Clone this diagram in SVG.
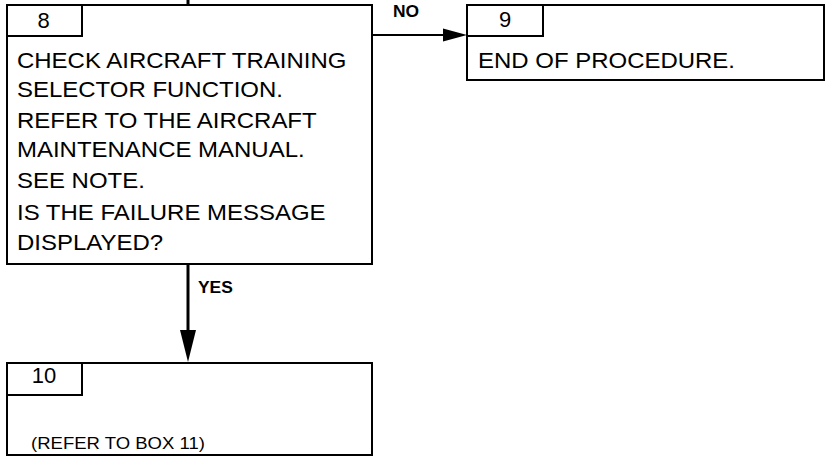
<svg xmlns="http://www.w3.org/2000/svg" width="825" height="459" viewBox="0 0 825 459">
<style>
.box{fill:#fff;stroke:#000;stroke-width:2}
.t{font-family:"Liberation Sans",Arial,sans-serif;font-size:22px;fill:#000}
.n{font-family:"Liberation Sans",Arial,sans-serif;font-size:22px;fill:#000;text-anchor:middle}
.s{font-family:"Liberation Sans",Arial,sans-serif;font-size:17px;fill:#000}
.lbl{font-family:"Liberation Sans",Arial,sans-serif;font-size:16px;font-weight:bold;fill:#000}
.c{stroke:#000;stroke-width:3;fill:none}
.head{fill:#000}
</style>
<g id="connectors">
<line class="c" x1="188" y1="0" x2="188" y2="5"/>
<line class="c" x1="188" y1="264" x2="188" y2="335"/>
<path class="head" d="M180,330 L196,330 L188,362 Z"/>
<line x1="372" y1="35" x2="448" y2="35" stroke="#000" stroke-width="2"/>
<path class="head" d="M443,28.5 L467,35 L443,41.5 Z"/>
<text class="lbl" transform="matrix(1.09 0 0 1 393 17)">NO</text>
<text class="lbl" transform="matrix(1.09 0 0 1 198 293)">YES</text>
</g>
<g id="node8">
<rect class="box" x="7" y="5" width="365" height="259"/>
<rect class="box" x="7" y="5" width="75" height="31"/>
<text class="n" x="43.5" y="28">8</text>
<text class="t" transform="matrix(1.09 0 0 1 17 68)">CHECK AIRCRAFT TRAINING</text>
<text class="t" transform="matrix(1.09 0 0 1 17 97)">SELECTOR FUNCTION.</text>
<text class="t" transform="matrix(1.09 0 0 1 17 128)">REFER TO THE AIRCRAFT</text>
<text class="t" transform="matrix(1.09 0 0 1 17 157)">MAINTENANCE MANUAL.</text>
<text class="t" transform="matrix(1.09 0 0 1 17 188)">SEE NOTE.</text>
<text class="t" transform="matrix(1.09 0 0 1 17 220)">IS THE FAILURE MESSAGE</text>
<text class="t" transform="matrix(1.09 0 0 1 17 250)">DISPLAYED?</text>
</g>
<g id="node9">
<rect class="box" x="467" y="5" width="357" height="75"/>
<rect class="box" x="467" y="5" width="76" height="31"/>
<text class="n" x="505" y="27">9</text>
<text class="t" transform="matrix(1.09 0 0 1 478 68)">END OF PROCEDURE.</text>
</g>
<g id="node10">
<rect class="box" x="7" y="363" width="365" height="92"/>
<rect class="box" x="7" y="363" width="75" height="32"/>
<text class="n" x="44" y="383">10</text>
<text class="s" transform="matrix(1.09 0 0 1 31 449)">(REFER TO BOX 11)</text>
</g>
</svg>
